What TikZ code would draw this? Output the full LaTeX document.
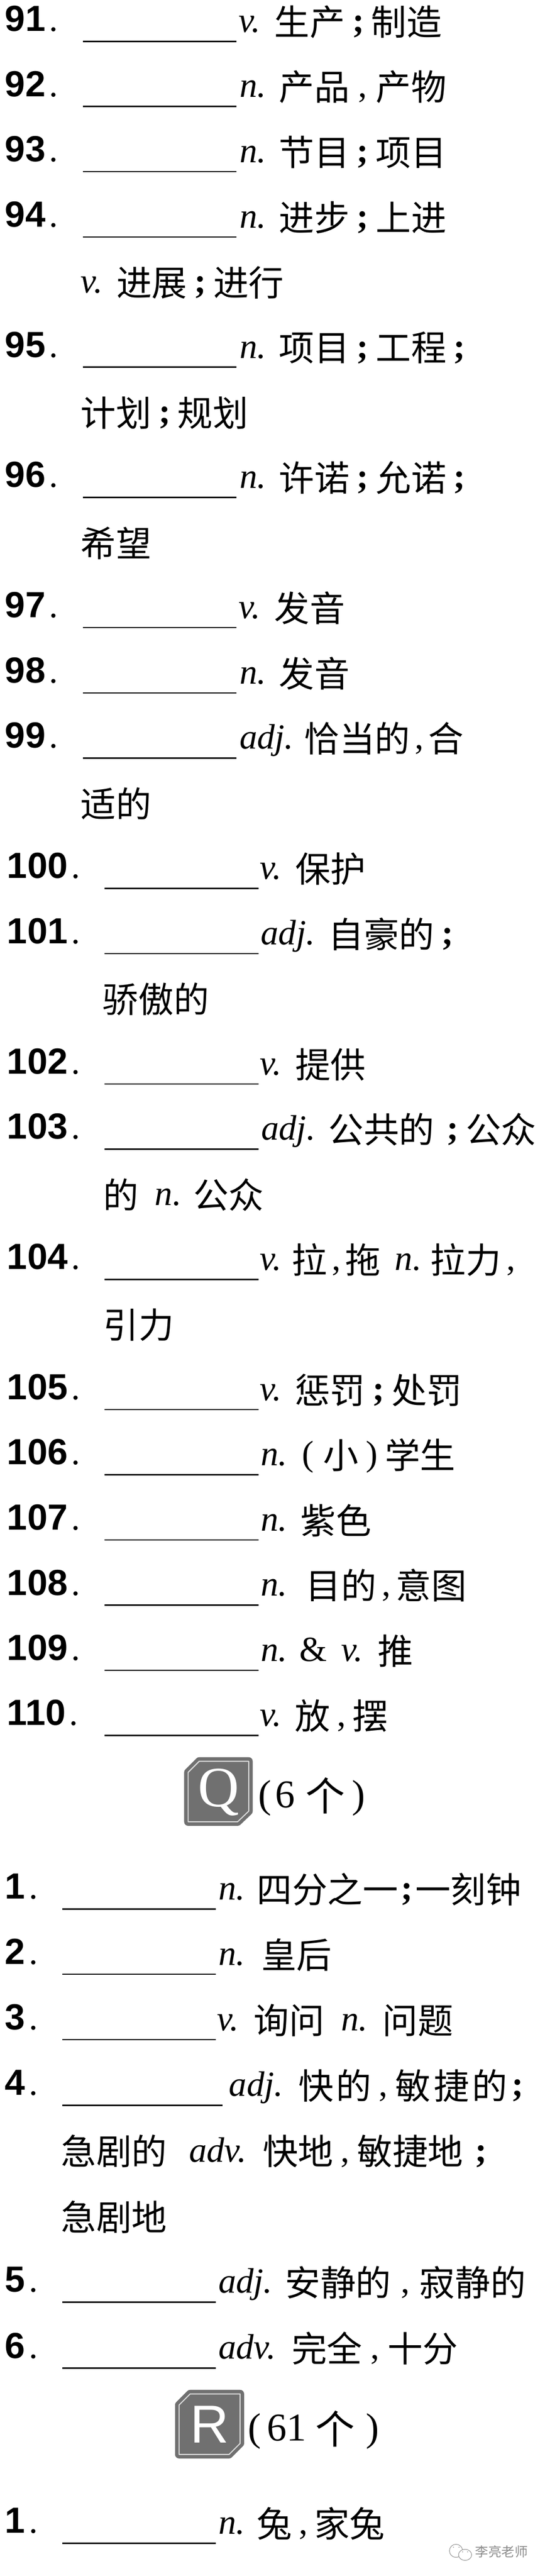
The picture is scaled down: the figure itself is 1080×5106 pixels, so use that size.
\documentclass[tikz,border=0pt]{standalone}
\usepackage{fontspec}
\setmainfont{Liberation Serif}
\setsansfont{Liberation Sans}
\newfontfamily\cjk{Noto Sans CJK SC}
\usetikzlibrary{positioning}
\usetikzlibrary{shapes.geometric}
\definecolor{badgegray}{HTML}{707070}
\definecolor{markgray}{HTML}{8C8C8C}
\newcommand{\ct}[1]{\raisebox{-6pt}{\cjk #1}}
\newcommand{\gpos}[2]{\makebox[#1pt][l]{\itshape #2}}
\newcommand{\gcomma}[1][52]{\makebox[#1pt]{,}}
\newcommand{\gsemi}[1][52]{\makebox[#1pt]{\bfseries ;}}
\newcommand{\numtext}[1]{{\sffamily\bfseries\fontsize{72}{84}\selectfont #1}\kern7pt.}

\begin{document}
\begin{tikzpicture}[x=1pt,y=-1pt,
		num node/.style={anchor=base west,inner sep=0pt,yshift=2pt,font=\fontsize{70}{84}\selectfont},
		gloss node/.style={anchor=base west,inner sep=0pt,font=\fontsize{70}{84}\selectfont},
		blank node/.style={anchor=west,inner sep=0pt,minimum height=2.5pt,minimum width=305pt,fill=black},
		badge path/.style={fill=badgegray,draw=badgegray,line width=7pt,
			double=white!88!black,double distance=2pt,line join=round},
		badge node/.style={inner sep=0pt,text=white},
		bubble node/.style={ellipse,draw=markgray,fill=white,line width=1pt,inner sep=0pt},
		eye node/.style={circle,fill=markgray,inner sep=0pt,minimum size=2pt}]

	\useasboundingbox (0,0) rectangle (1080,5106);

	% words 91 to 110
	\node[num node] (n91) at (10,64) {\numtext{91}};
	\node[blank node] (b91) at (164,82) {};
	\node[gloss node] (g91) at (473,64) {\gpos{71}{v.}\ct{生产}\gsemi\ct{制造}};
	\node[num node] (n92) at (10,193) {\numtext{92}};
	\node[blank node] (b92) at (164,211) {};
	\node[gloss node] (g92) at (475,193) {\gpos{78}{n.}\ct{产品}\gcomma\ct{产物}};
	\node[num node] (n93) at (10,322.3) {\numtext{93}};
	\node[blank node] (b93) at (164,340.3) {};
	\node[gloss node] (g93) at (475,322.3) {\gpos{78}{n.}\ct{节目}\gsemi\ct{项目}};
	\node[num node] (n94) at (10,451.5) {\numtext{94}};
	\node[blank node] (b94) at (164,469.5) {};
	\node[gloss node] (g94) at (475,451.5) {\gpos{78}{n.}\ct{进步}\gsemi\ct{上进}};
	\node[gloss node] (m94) at (160,580.6) {\gpos{71}{v.}\ct{进展}\gsemi\ct{进行}};
	\node[num node] (n95) at (10,709.8) {\numtext{95}};
	\node[blank node] (b95) at (164,727.8) {};
	\node[gloss node] (g95) at (475,709.8) {\gpos{78}{n.}\ct{项目}\gsemi\ct{工程}\gsemi};
	\node[gloss node] (m95) at (160,838.9) {\ct{计划}\gsemi\ct{规划}};
	\node[num node] (n96) at (10,968) {\numtext{96}};
	\node[blank node] (b96) at (164,986) {};
	\node[gloss node] (g96) at (475,968) {\gpos{78}{n.}\ct{许诺}\gsemi\ct{允诺}\gsemi};
	\node[gloss node] (m96) at (160,1097) {\ct{希望}};
	\node[num node] (n97) at (10,1226) {\numtext{97}};
	\node[blank node] (b97) at (164,1244) {};
	\node[gloss node] (g97) at (473,1226) {\gpos{71}{v.}\ct{发音}};
	\node[num node] (n98) at (10,1355.5) {\numtext{98}};
	\node[blank node] (b98) at (164,1373.5) {};
	\node[gloss node] (g98) at (475,1355.5) {\gpos{78}{n.}\ct{发音}};
	\node[num node] (n99) at (10,1484.7) {\numtext{99}};
	\node[blank node] (b99) at (164,1502.7) {};
	\node[gloss node] (g99) at (475,1484.7) {\gpos{128}{adj.}\ct{恰当的}\gcomma[36]\ct{合}};
	\node[gloss node] (m99) at (160,1613.8) {\ct{适的}};
	\node[num node] (n100) at (14,1743) {\numtext{100}};
	\node[blank node] (b100) at (207,1761) {};
	\node[gloss node] (g100) at (515,1743) {\gpos{70}{v.}\ct{保护}};
	\node[num node] (n101) at (14,1872) {\numtext{101}};
	\node[blank node] (b101) at (207,1890) {};
	\node[gloss node] (g101) at (517,1872) {\gpos{134}{adj.}\ct{自豪的}\gsemi};
	\node[gloss node] (m101) at (204,2001) {\ct{骄傲的}};
	\node[num node] (n102) at (14,2130.4) {\numtext{102}};
	\node[blank node] (b102) at (207,2148.4) {};
	\node[gloss node] (g102) at (515,2130.4) {\gpos{70}{v.}\ct{提供}};
	\node[num node] (n103) at (14,2259.6) {\numtext{103}};
	\node[blank node] (b103) at (207,2277.6) {};
	\node[gloss node] (g103) at (518,2259.6) {\gpos{133}{adj.}\ct{公共的}\hskip10pt\gsemi\ct{公众}};
	\node[gloss node] (m103) at (205,2388.7) {\ct{的}\hskip32pt\gpos{76}{n.}\ct{公众}};
	\node[num node] (n104) at (14,2517.9) {\numtext{104}};
	\node[blank node] (b104) at (207,2535.9) {};
	\node[gloss node] (g104) at (515,2517.9) {\gpos{63}{v.}\ct{拉}\gcomma[37]\ct{拖}\hskip28pt\gpos{70}{n.}\ct{拉力}\gcomma[40]};
	\node[gloss node] (m104) at (205,2647) {\ct{引力}};
	\node[num node] (n105) at (14,2776) {\numtext{105}};
	\node[blank node] (b105) at (207,2794) {};
	\node[gloss node] (g105) at (515,2776) {\gpos{69}{v.}\ct{惩罚}\gsemi\ct{处罚}};
	\node[num node] (n106) at (14,2905) {\numtext{106}};
	\node[blank node] (b106) at (207,2923) {};
	\node[gloss node] (g106) at (517,2905) {\gpos{82}{n.}\makebox[42pt][l]{(}\ct{小}\makebox[52pt]{)}\ct{学生}};
	\node[num node] (n107) at (14,3034.5) {\numtext{107}};
	\node[blank node] (b107) at (207,3052.5) {};
	\node[gloss node] (g107) at (517,3034.5) {\gpos{79}{n.}\ct{紫色}};
	\node[num node] (n108) at (14,3163.6) {\numtext{108}};
	\node[blank node] (b108) at (207,3181.6) {};
	\node[gloss node] (g108) at (517,3163.6) {\gpos{89}{n.}\ct{目的}\gcomma[39]\ct{意图}};
	\node[num node] (n109) at (14,3292.8) {\numtext{109}};
	\node[blank node] (b109) at (207,3310.8) {};
	\node[gloss node] (g109) at (517,3292.8) {\gpos{77}{n.}\&\hskip28pt\gpos{72}{v.}\ct{推}};
	\node[num node] (n110) at (14,3421.9) {\numtext{110}};
	\node[blank node] (b110) at (207,3439.9) {};
	\node[gloss node] (g110) at (515,3421.9) {\gpos{69}{v.}\ct{放}\gcomma[45]\ct{摆}};

	% letter Q
	\draw[badge path] (395,3491) -- (493,3491) -- (493,3590) -- (471,3611) -- (373,3611) -- (373,3513) -- cycle;
	\node[badge node,font=\fontsize{113}{120}\selectfont] (badgeq) at (433,3553) {Q};
	\node[gloss node,font=\fontsize{78}{90}\selectfont] (countq) at (512,3583) {\makebox[34pt][l]{(}\makebox[60pt][l]{6}\ct{个}\hskip14pt)};
	\node[num node] (nq1) at (10,3766) {\numtext{1}};
	\node[blank node] (bq1) at (123,3784) {};
	\node[gloss node] (gq1) at (433,3766) {\gpos{76}{n.}\ct{四分之一}\gsemi[34]\ct{一刻钟}};
	\node[num node] (nq2) at (10,3895) {\numtext{2}};
	\node[blank node] (bq2) at (123,3913) {};
	\node[gloss node] (gq2) at (433,3895) {\gpos{85}{n.}\ct{皇后}};
	\node[num node] (nq3) at (10,4025) {\numtext{3}};
	\node[blank node] (bq3) at (123,4043) {};
	\node[gloss node] (gq3) at (430,4025) {\gpos{73}{v.}\ct{询问}\hskip33pt\gpos{82}{n.}\ct{问题}};
	\node[num node] (nq4) at (10,4155) {\numtext{4}};
	\node[blank node,minimum width=318pt] (bq4) at (123,4173) {};
	\node[gloss node] (gq4) at (454,4155) {\gpos{138}{adj.}\ct{快}\hskip4pt\ct{的}\gcomma[48]\ct{敏}\hskip6pt\ct{捷}\hskip6pt\ct{的}\gsemi[40]};
	\node[gloss node] (mq4) at (121,4285) {\ct{急剧的}\hskip44pt\gpos{146}{adv.}\ct{快地}\gcomma[47]\ct{敏捷地}\gsemi[70]};
	\node[gloss node] (lq4) at (121,4415) {\ct{急剧地}};
	\node[num node] (nq5) at (10,4545) {\numtext{5}};
	\node[blank node] (bq5) at (123,4563) {};
	\node[gloss node] (gq5) at (433,4545) {\gpos{132}{adj.}\ct{安静的}\gcomma[57]\ct{寂静的}};
	\node[num node] (nq6) at (10,4676) {\numtext{6}};
	\node[blank node] (bq6) at (123,4694) {};
	\node[gloss node] (gq6) at (433,4676) {\gpos{145}{adv.}\ct{完全}\gcomma[50]\ct{十分}};

	% letter R
	\draw[badge path] (377,4745) -- (476,4745) -- (476,4843) -- (454,4865) -- (355,4865) -- (355,4767) -- cycle;
	\node[badge node,font=\fontsize{106}{120}\sffamily\selectfont] (badger) at (416,4806) {R};
	\node[gloss node,font=\fontsize{78}{90}\selectfont] (countr) at (492,4838) {\makebox[37pt][l]{(}\makebox[96pt][l]{61}\ct{个}\hskip22pt)};
	\node[num node] (nr1) at (10,5023) {\numtext{1}};
	\node[blank node] (br1) at (123,5041) {};
	\node[gloss node] (gr1) at (433,5023) {\gpos{76}{n.}\ct{兔}\gcomma[44]\ct{家兔}};

	% mark in the corner
	\node[bubble node,minimum width=26pt,minimum height=26pt] (left bubble) at (904,5056) {};
	\node[bubble node,minimum width=26pt,minimum height=22pt] (right bubble) at (922,5064) {};
	\node[eye node] (eye a) at (899,5049) {};
	\node[eye node] (eye b) at (910,5049) {};
	\node[eye node] (eye c) at (917,5058) {};
	\node[eye node] (eye d) at (927,5058) {};
	\node[anchor=west,inner sep=0pt,text=markgray,font=\fontsize{26}{30}\selectfont\cjk] (mark) at (942,5058) {李亮老师};
\end{tikzpicture}
\end{document}
